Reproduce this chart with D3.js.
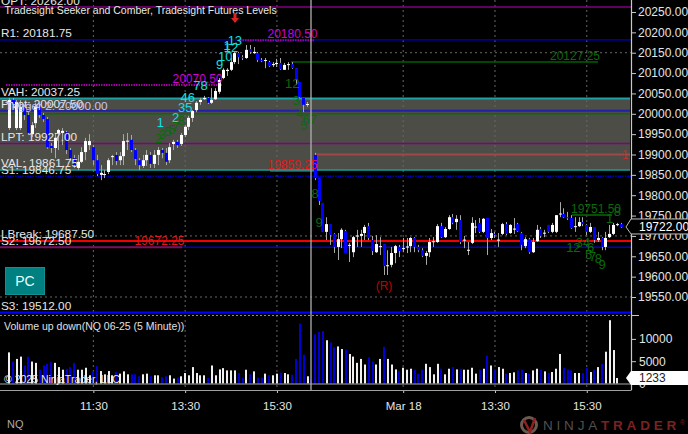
<!DOCTYPE html>
<html><head><meta charset="utf-8">
<script src="https://cdn.jsdelivr.net/npm/d3@7/dist/d3.min.js"></script>
<style>html,body{margin:0;background:#000;overflow:hidden}svg{display:block}text{font-family:"Liberation Sans",Arial,sans-serif}</style>
</head><body><svg id="c" width="688" height="434"></svg>
<script>
const opens=[19965,20034,19965,19965,20017,19997,19950,19977,20017,19997,19987,19921,19916,19953,19953,19955,19911,19891,19867,19882,19906,19923,19918,19886,19850,19850,19857,19894,19899,19886,19896,19933,19936,19911,19886,19872,19886,19899,19877,19899,19911,19904,19886,19926,19931,19926,19948,19968,19990,20009,20029,20036,20039,20027,20036,20054,20088,20105,20108,20127,20149,20139,20137,20159,20149,20149,20132,20131,20127,20120,20122,20125,20108,20120,20122,20112,20078,20039,20022,null,19899,19842,19781,19710,19729,19705,19673,19692,19712,19678,19660,19700,19700,19707,19724,19690,19660,19673,19680,19626,19629,19658,19673,19668,19672,19675,19695,19673,19665,19651,19660,19685,19685,19724,19697,19717,19746,19734,19739,19690,19665,19683,19722,19732,19710,19744,19695,19705,19690,19705,19729,19707,19717,19729,19707,19675,19692,19660,19687,19717,19707,19727,19710,19710,19754,19754,19746,19744,19722,19724,19734,19727,19710,19722,19690,19695,19673,19697,19705,19727,19729];
const highs=[20039,20039,20034,20034,20022,20004,19980,20027,20027,20002,19992,19928,19953,19963,19965,19958,19916,19899,19899,19918,19941,19950,19923,19899,19874,19862,19891,19899,19906,19906,19950,19953,19948,19916,19891,19899,19911,19906,19911,19918,19916,19916,19928,19936,19936,19953,19972,19995,20009,20031,20039,20044,20041,20063,20063,20088,20112,20112,20137,20152,20152,20144,20169,20169,20164,20152,20137,20137,20130,20127,20135,20137,20125,20127,20127,20112,20078,20039,20029,null,19904,19842,19781,19746,19729,19707,19707,19719,19715,19683,19700,19715,19715,19727,19732,19700,19702,19697,19680,19665,19673,19678,19678,19695,19695,19697,19697,19678,19670,19663,19695,19697,19729,19732,19722,19751,19754,19751,19751,19700,19685,19746,19739,19744,19744,19744,19717,19710,19707,19732,19734,19729,19744,19732,19710,19697,19695,19695,19727,19722,19715,19727,19732,19751,19783,19768,19759,19751,19746,19746,19746,19729,19732,19722,19710,19697,19710,19727,19732,19732,19732];
const lows=[19960,20014,19960,19960,19985,19948,19943,19965,19990,19980,19914,19904,19891,19911,19923,19901,19886,19867,19862,19879,19886,19911,19874,19847,19837,19842,19852,19874,19874,19874,19874,19911,19906,19874,19862,19867,19872,19867,19867,19874,19891,19874,19879,19911,19916,19921,19943,19960,19980,20004,20022,20034,20024,20024,20034,20049,20085,20093,20105,20122,20122,20132,20135,20147,20147,20127,20127,20112,20115,20115,20115,20108,20108,20108,20110,20071,20039,20004,20017,null,19837,19776,19710,19690,19678,19658,19641,19670,19658,19636,19648,19673,19673,19690,19690,19653,19658,19653,19604,19604,19623,19633,19648,19660,19658,19660,19660,19660,19648,19629,19648,19673,19683,19695,19695,19715,19729,19715,19680,19670,19653,19680,19707,19707,19707,19653,19690,19695,19673,19702,19702,19705,19705,19710,19665,19670,19656,19658,19685,19695,19697,19707,19707,19707,19746,19744,19739,19717,19710,19722,19724,19702,19707,19683,19685,19665,19665,19695,19702,19724,19720];
const closes=[20034,20019,20029,20017,19997,19953,19972,20017,19997,19987,19918,19916,19941,19960,19958,19911,19891,19874,19882,19906,19933,19933,19886,19852,19855,19852,19886,19896,19884,19896,19933,19934,19911,19889,19874,19886,19899,19877,19899,19911,19904,19882,19918,19931,19923,19948,19968,19990,20007,20027,20034,20039,20027,20034,20056,20083,20108,20108,20127,20149,20139,20137,20157,20152,20152,20132,20130,20132,20117,20122,20125,20110,20120,20122,20112,20083,20041,20022,20024,null,19842,19786,19710,19729,19702,19673,19692,19715,19658,19678,19697,19701,19705,19722,19695,19663,19680,19675,19626,19628,19658,19675,19663,19670,19674,19695,19673,19665,19651,19658,19685,19687,19724,19697,19717,19746,19732,19742,19685,19691,19666,19732,19723,19710,19742,19695,19707,19704,19691,19729,19705,19727,19718,19712,19678,19692,19660,19685,19715,19700,19708,19710,19727,19751,19755,19746,19744,19719,19724,19734,19729,19710,19722,19690,19695,19673,19695,19705,19727,19729,19722];
const volumes=[6980,4920,5510,6030,4040,6030,4920,4630,3090,4040,4410,4780,4630,3680,3090,3310,3680,4630,3090,3090,3530,1840,2720,3900,2790,2060,2790,1840,2570,2210,2720,2060,2060,2060,1620,2060,2210,1690,1840,1840,1400,1620,1840,1100,1320,1620,2350,1840,3680,2350,1840,1840,1250,4040,1840,3160,3450,2940,2940,2940,2350,1250,3090,2060,2720,1320,1320,2210,1840,1840,2210,2430,2350,2060,1980,5510,13450,6470,1620,740,11030,11540,11760,9700,9190,8090,8310,7720,7570,6620,6030,4630,5510,4260,5880,4920,4260,5510,8230,5510,4260,3160,2790,3530,3090,3310,3090,2210,3090,4410,3680,2060,4410,3310,2060,3310,3680,3160,3310,3090,3090,3530,2210,3090,3310,6250,4040,3160,3680,3310,2210,2350,2500,2940,3090,2350,2210,2940,3310,3090,2720,2350,2570,3310,6620,3530,3090,2940,2350,2350,2350,3530,2570,3090,3680,4410,7130,14190,7500,1233];
const priceTicks=[19550,19600,19650,19700,19750,19800,19850,19900,19950,20000,20050,20100,20150,20200,20250];
const volumeTicks=[0,5000,10000];
const timeTickBars=[22,46,70,103,127,151];
const timeTickLabels=["11:30","13:30","15:30","Mar 18","13:30","15:30"];
const levelLabels=[["OPT: 20262.00",20262],["R1: 20181.75",20181.75],["VAH: 20037.25",20037.25],["Pivot: 20007.50",20007.5],["LPT: 19927.00",19927],["VAL: 19861.75",19861.75],["S1: 19846.75",19846.75],["LBreak: 19687.50",19687.5],["S2: 19672.50",19672.5],["S3: 19512.00",19512]];
const cyanCounts=[["1",39.5,122],["2",43.5,117],["35",46,107],["46",46.7,97],["78",50,85],["9",55,64],["10",56.5,56],["1",57,45],["12",58,47],["13",59,40]];
const greenCounts=[["2",39,138],["3",40,134],["5",41.5,131],["5",42.5,129],["7",43.5,126],["8",45,120],["12",74,83],["3",75,100],["4",76,113],["5",77,125],["67",78.5,119],["8",80,193],["9",81,222],["12",147.5,247],["34",150,242],["6",152,247],["5",151.5,254],["7",152.5,256],["8",154,258],["9",155,264],["1",157,218],["8",159,211]];

const svg=d3.select("#c");
const W=688,H=434,PR=631;
const x=d3.scaleLinear().domain([0,160]).range([9.2,621.2]);
const y=d3.scaleLinear().domain([20250,19550]).range([12,297]);
const yv=d3.scaleLinear().domain([0,10000]).range([383.5,338.9]);
svg.append("rect").attr("width",W).attr("height",H).attr("fill","#000");

svg.append("rect").attr("x",0).attr("width",630).attr("y",y(20037.25)).attr("height",y(19861.75)-y(20037.25)).attr("fill","#4d4d47");

const dash="2,3";
timeTickBars.forEach(b=>svg.append("line").attr("x1",x(b)).attr("x2",x(b)).attr("y1",0).attr("y2",390).attr("stroke","#666").attr("stroke-dasharray",dash));
[20150,19700,19550].forEach(p=>svg.append("line").attr("x1",0).attr("x2",PR).attr("y1",y(p)).attr("y2",y(p)).attr("stroke","#666").attr("stroke-dasharray",dash));
svg.append("line").attr("x1",0).attr("x2",PR).attr("y1",315.5).attr("y2",315.5).attr("stroke","#888").attr("stroke-dasharray","2,2");

function lvl(p,x1,x2,col,w,d){const l=svg.append("line").attr("x1",x1).attr("x2",x2).attr("y1",y(p)).attr("y2",y(p)).attr("stroke",col).attr("stroke-width",w);if(d)l.attr("stroke-dasharray",d);}
lvl(20262,0,PR,"#800080",1.5);
lvl(20181.75,0,PR,"#0000c8",1.2);
lvl(20180.5,240,315,"#a000a0",2,"1.5,1");
lvl(20127.25,291,598,"#006000",1.5);
lvl(20070.5,6,222,"#a000a0",2,"1.5,1");
lvl(20037.25,0,630,"#20a0a0",2);
lvl(20007.5,0,630,"#2020a8",2);
lvl(20000,0,630,"#0a6a0a",1.5);
lvl(19927,0,630,"#800080",1.5);
lvl(19900,315,630,"#a04848",2);
lvl(19859.25,270,315,"#c03030",1.5);
lvl(19861.75,0,630,"#10a0a0",1.6);
lvl(19846.75,0,PR,"#0000c0",1.5,"1.5,1");
lvl(19672.5,0,PR,"#0000c8",1.5);
lvl(19672.25,0,182,"#80104a",2);
lvl(19687.5,0,PR,"#f00000",2);
lvl(19512,0,PR,"#0000ff",2);
lvl(19751.5,572,612,"#0a6a0a",1.5);

const bars=d3.range(opens.length).filter(i=>opens[i]!==null);
const cg=svg.append("g");
bars.forEach(i=>{
 const r=Math.round(x(i)-1.5),up=closes[i]>=opens[i];
 cg.append("rect").attr("x",r+1).attr("width",1).attr("y",y(highs[i])).attr("height",Math.max(1,y(lows[i])-y(highs[i]))).attr("fill","#a8a8a8");
 const t=y(Math.max(opens[i],closes[i])),b=y(Math.min(opens[i],closes[i]));
 cg.append("rect").attr("x",r).attr("width",3).attr("y",t).attr("height",Math.max(1,b-t)).attr("fill",up?"#fff":"#0000ff");
});

const vg=svg.append("g");
volumes.forEach((v,i)=>{
 const up=opens[i]===null?false:closes[i]>=opens[i];
 vg.append("rect").attr("x",Math.round(x(i)-1)).attr("width",2).attr("y",yv(v)).attr("height",yv(0)-yv(v)).attr("fill",up?"#f0f0f0":"#0000d0");
});
svg.append("line").attr("x1",0).attr("x2",PR).attr("y1",384).attr("y2",384).attr("stroke","#aaa");

function label(s,px,py,fs,col,anchor,weight){return svg.append("text").attr("x",px).attr("y",py).attr("font-size",fs).attr("fill",col).attr("text-anchor",anchor||"start").attr("font-weight",weight||"normal").text(s);}
levelLabels.forEach(([s,p])=>label(s,1,y(p)-2.6,11.8,"#e6e6e6"));
label("Trigger 2: 20000.00",5,y(20000)-3.7,11.8,"#c8c8f0");
label("Tradesight Seeker and Comber, Tradesight Futures Levels",4.5,13.5,10.5,"#e8e8e8");
label("20180.50",292.5,38,12,"#d000d0","middle");
label("20070.50",197.5,82.5,12,"#d000d0","middle");
label("20127.25",575,60,12,"#0a6a0a","middle");
label("19859.25",292.5,169,12,"#e01818","middle");
label("19672.25",159.5,245,12,"#e01818","middle");
label("19751.50",596,213,12,"#0a6a0a","middle");
label("1",625,159,12,"#c03030","middle");
label("(R)",384,290,12,"#c00000","middle");
cyanCounts.forEach(([s,b,py])=>label(s,x(b),py+4.5,13,"#10e0e0","middle"));
greenCounts.forEach(([s,b,py])=>label(s,x(b),py+4.5,13,"#0a6a0a","middle"));

svg.append("path").attr("d",d3.line()([[233.5,13],[236.5,13],[236.5,18],[239,18],[235,23],[231,18],[233.5,18]])+"Z").attr("fill","#e02020");

svg.append("rect").attr("x",5.5).attr("y",267.5).attr("width",39).attr("height",27).attr("fill","#008080").attr("stroke","#109090");
label("PC",25,286,14,"#e8ffff","middle");

label("Volume up down(NQ 06-25 (5 Minute))",4,330,10.5,"#e0e0e0");
label("© 2025 NinjaTrader, LLC",4,383,10.5,"#e8e8e8");

svg.append("line").attr("x1",311).attr("x2",311).attr("y1",0).attr("y2",390).attr("stroke","#b0b0b0").attr("stroke-width",1.3);

function style(g){g.selectAll("path,line").attr("stroke","#c8c8c8");g.selectAll("text").attr("fill","#e4e4e4").attr("font-size",12);}
const ay=svg.append("g").attr("transform",`translate(${PR},0)`).call(d3.axisRight(y).tickValues(priceTicks).tickFormat(d3.format(".2f")).tickSize(5).tickPadding(2)).call(style);
ay.select("path").remove();
const av=svg.append("g").attr("transform",`translate(${PR},0)`).call(d3.axisRight(yv).tickValues(volumeTicks).tickFormat(d=>d).tickSize(5).tickPadding(3)).call(style);
av.select("path").remove();
const ax=svg.append("g").attr("transform","translate(0,390)").call(d3.axisBottom(x).tickValues(timeTickBars).tickFormat((d,i)=>timeTickLabels[i]).tickSize(3).tickPadding(9)).call(style);
ax.select("path").remove();
ax.selectAll("text").attr("font-size",11.5);
svg.append("line").attr("x1",PR+.5).attr("x2",PR+.5).attr("y1",0).attr("y2",390).attr("stroke","#c8c8c8").attr("stroke-width",1.2);
svg.append("line").attr("x1",0).attr("x2",PR+.5).attr("y1",390.5).attr("y2",390.5).attr("stroke","#a0a0a0").attr("stroke-width",1.2);
svg.append("line").attr("x1",PR).attr("x2",PR+8).attr("y1",315.5).attr("y2",315.5).attr("stroke","#c8c8c8");

const lastP=closes[closes.length-1];
const py=y(lastP);
svg.append("path").attr("d",d3.line()([[688,py-8],[631,py-8],[626,py],[631,py+7],[688,py+7]])).attr("fill","#000").attr("stroke","#c0c0c0");
label(d3.format(".2f")(lastP),639,py+4,12,"#fff");
const vy=yv(volumes[volumes.length-1]);
svg.append("path").attr("d",d3.line()([[688,vy-7],[631,vy-7],[626,vy],[631,vy+7],[688,vy+7]])+"Z").attr("fill","#fff");
label(volumes[volumes.length-1],639,vy+4,12,"#222");

label("NQ",7,428,11,"#aaa");

svg.append("circle").attr("cx",529).attr("cy",425).attr("r",7.5).attr("fill","none").attr("stroke","#6a5a50").attr("stroke-width",3);
svg.append("path").attr("d","M524 420L530 432L535 418").attr("fill","none").attr("stroke","#902020").attr("stroke-width",2.5);
const logo=svg.append("text").attr("x",543).attr("y",430).attr("font-size",13.5).attr("letter-spacing",3.8);
logo.append("tspan").attr("fill","#505050").text("NINJA");
logo.append("tspan").attr("fill","#7a2222").attr("font-weight","bold").text("TRADER");
logo.append("tspan").attr("fill","#7a2222").attr("font-size",7).attr("dy",-5).attr("letter-spacing",0).text("®");
</script></body></html>
